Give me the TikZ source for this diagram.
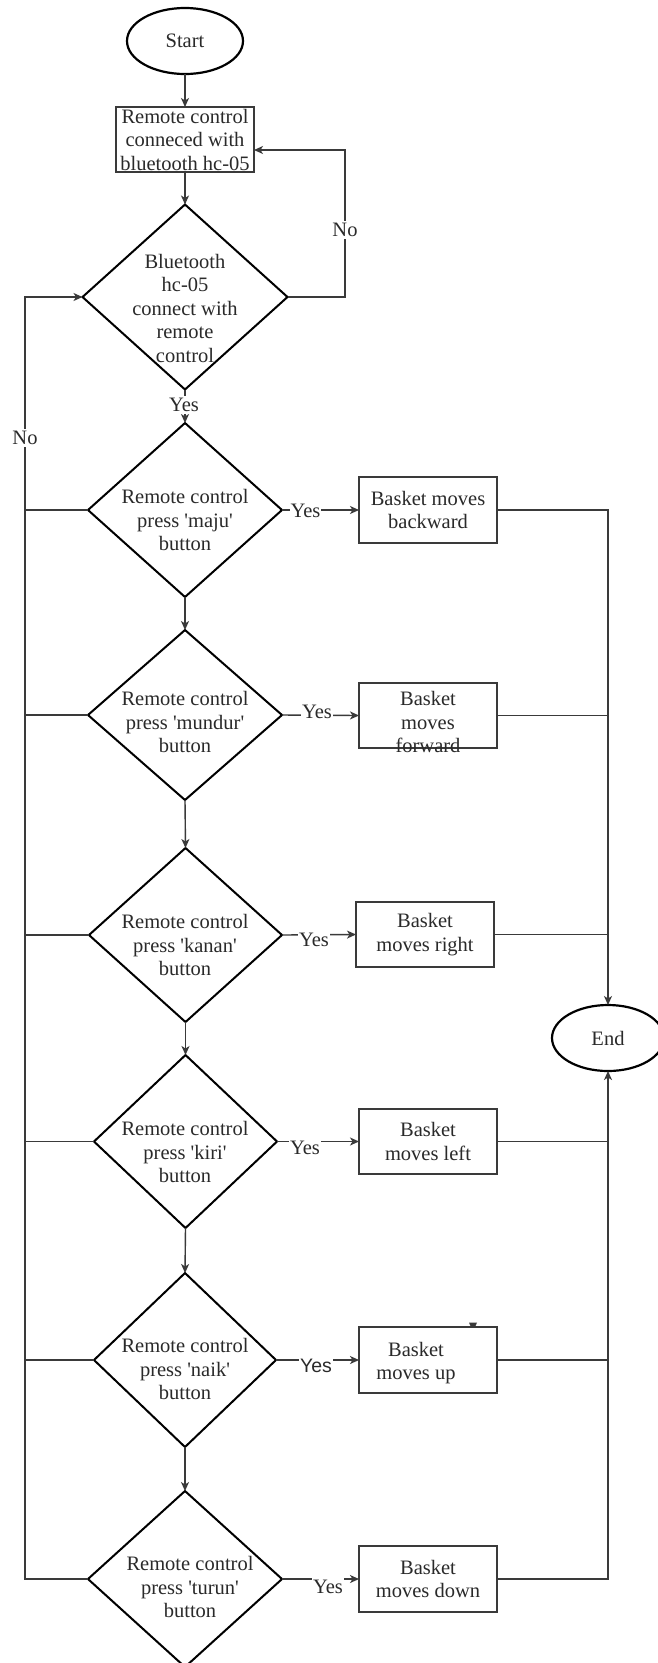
\documentclass[tikz,border=0pt]{standalone}
\usepackage{fontspec}
\setmainfont{Liberation Serif}[Ligatures=TeXOff]
\newfontfamily\yessans{Liberation Sans}
\usetikzlibrary{shapes.geometric,arrows.meta,calc}
\definecolor{linecol}{HTML}{3A3A3A}
\definecolor{txtcol}{HTML}{2A2A2A}
\begin{document}
\begin{tikzpicture}[x=1pt,y=-1pt,
  every node/.style={font=\fontsize{20.5}{23.5}\selectfont, text=txtcol},
  term/.style={ellipse, draw=black, line width=2.2pt, inner sep=0pt, outer sep=0pt},
  proc/.style={rectangle, draw=linecol, line width=1.4pt, inner sep=0pt, outer sep=0pt, align=center, minimum width=138pt},
  dec/.style={diamond, draw=black, line width=2pt, inner sep=0pt, outer sep=0pt},
  dtext/.style={align=center, inner sep=0pt},
  conn/.style={draw=linecol, line width=1.4pt},
  arr/.style={conn, -{Stealth[length=9pt,width=8pt,inset=2.5pt]}},
  lbl/.style={fill=white, inner xsep=1pt, inner ysep=2pt},
]
\useasboundingbox (0,0) rectangle (657,1663);
\fill[white] (0,0) rectangle (657,1663);

% terminals and boxes
\node[term, minimum width=116pt, minimum height=66pt] (start) at (185,41) {Start};
\node[proc, minimum height=65pt] (b1) at (185,139.5) {Remote control\\conneced with\\bluetooth hc-05};

% decisions
\node[dec, minimum width=205pt, minimum height=185pt] (d1) at (185,297) {};
\node[dtext] (t1) at (185,308) {Bluetooth\\hc-05\\connect with\\remote\\control};
\node[dec, minimum width=194pt, minimum height=174pt] (d2) at (185,510) {};
\node[dtext] (t2) at (185,520) {Remote control\\press 'maju'\\button};
\node[dec, minimum width=194pt, minimum height=170pt] (d3) at (185,715) {};
\node[dtext] (t3d) at (185,722) {Remote control\\press 'mundur'\\button};
\node[dec, minimum width=193pt, minimum height=174pt] (d4) at (185.5,935) {};
\node[dtext] (t4) at (185,945) {Remote control\\press 'kanan'\\button};
\node[dec, minimum width=183pt, minimum height=173pt] (d5) at (185.5,1141.5) {};
\node[dtext] (t5) at (185,1152) {Remote control\\press 'kiri'\\button};
\node[dec, minimum width=182pt, minimum height=174pt] (d6) at (185,1360) {};
\node[dtext] (t6d) at (185,1369) {Remote control\\press 'naik'\\button};
\node[dec, minimum width=194pt, minimum height=176pt] (d7) at (185,1579) {};
\node[dtext] (t7) at (190,1587) {Remote control\\press 'turun'\\button};

% action boxes
\node[proc, minimum height=66pt] (b2) at (428,510) {Basket moves\\backward};
\node[proc, minimum height=65pt] (b3) at (428,715.5) {};
\node[dtext] (t3) at (428,722) {Basket\\moves\\forward};
\node[proc, minimum height=65pt] (b4) at (425,934.5) {Basket\\moves right};
\node[proc, minimum height=65pt] (b5) at (428,1141.5) {Basket\\moves left};
\node[proc, minimum height=66pt] (b6) at (428,1360) {};
\node[dtext] (t6) at (416,1363) {Basket\\moves up};
\node[proc, minimum height=66pt] (b7) at (428,1579) {Basket\\moves down};
\node[term, minimum width=112pt, minimum height=66pt] (end) at (608,1038) {End};

% helper coordinates
\coordinate (L) at (25,297);
\coordinate (R) at (608,510);
\coordinate (NR) at (345,297);
\coordinate (b1in) at ($(b1.east)+(0,10.5)$);

% main spine
\draw[arr] (start.south) -- (b1.north);
\draw[arr] (b1.south) -- (d1.north);
\draw[arr] (d1.south) -- (d2.north);
\draw[arr] (d2.south) -- (d3.north);
\draw[arr] (d3.south) -- (d4.north);
\draw[arr] (d4.south) -- (d5.north);
\draw[arr] (d5.south) -- (d6.north);
\draw[arr] (d6.south) -- (d7.north);

% No loop right
\draw[arr] (d1.east) -- (NR) |- (b1in);

% No loop left
\draw[arr] (d7.west) -- (d7.west -| L) -- (L) -- (d1.west);
\foreach \i in {2,...,6} \draw[conn] (d\i.west) -- (d\i.west -| L);

% Yes branches
\foreach \i in {2,...,7} \draw[arr] (d\i.east) -- (b\i.west);

% to End
\draw[arr] (b2.east) -- (R) -- (end.north);
\foreach \i in {3,...,6} \draw[conn] (b\i.east) -- (b\i.east -| R);
\draw[arr] (b7.east) -| (end.south);

% stray tip above box
\fill[linecol] (469,1322.5) -- (477,1322.5) -- (475.5,1326) -- (470.5,1326) -- cycle;

% labels
\node[lbl] (y1) at (184,405) {Yes};
\node[lbl] (n1) at (345,230) {No};
\node[lbl] (n2) at (25,438) {No};
\node[lbl] (y2) at (305.5,511) {Yes};
\node[lbl] (y3) at (317,712) {Yes};
\node[lbl] (y4) at (314,940) {Yes};
\node[lbl] (y5) at (305,1148) {Yes};
\node[lbl, anchor=north, font=\yessans\fontsize{19.5}{22}\selectfont] (y6) at (316,1357) {Yes};
\node[lbl, anchor=north, inner ysep=4pt] (y7) at (328,1576) {Yes};
\end{tikzpicture}
\end{document}
